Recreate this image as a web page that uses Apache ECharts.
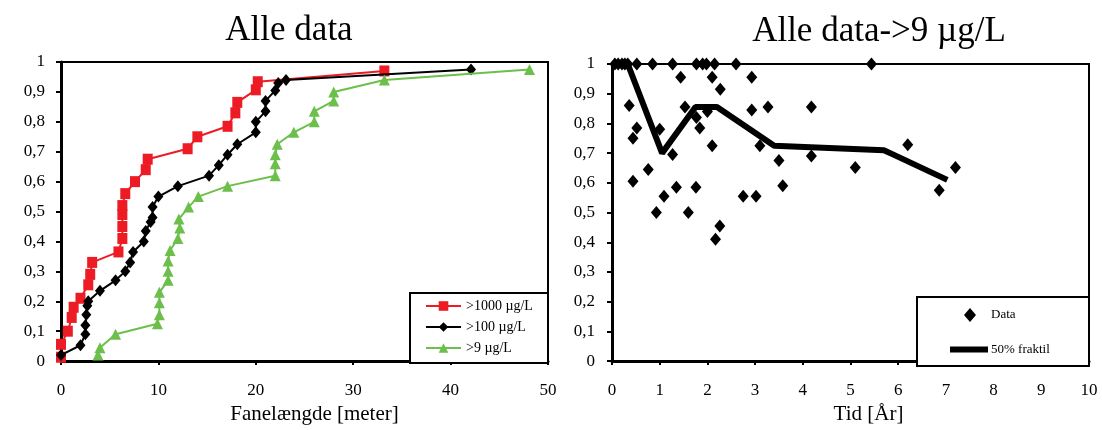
<!DOCTYPE html>
<html><head><meta charset="utf-8">
<script src="https://cdn.jsdelivr.net/npm/echarts@6/dist/echarts.min.js"></script>
<style>html,body{margin:0;padding:0;background:#fff}#c{width:1102px;height:430px}</style>
</head><body><div id="c"></div>
<script>
// ---- data: left chart (Fanelængde [meter] vs cumulative fraction)
const red1000 = [[0,0.013],[0,0.056],[0.7,0.10],[1.1,0.146],[1.3,0.18],[2,0.21],[2.8,0.255],[3,0.29],[3.2,0.33],[5.9,0.365],[6.3,0.41],[6.3,0.45],[6.3,0.49],[6.3,0.52],[6.6,0.56],[7.6,0.60],[8.7,0.64],[8.9,0.675],[13,0.71],[14,0.75],[17.1,0.785],[17.9,0.83],[18.1,0.865],[20,0.907],[20.2,0.934],[33.2,0.97]];
const black100 = [[0,0.02],[2,0.053],[2.5,0.09],[2.5,0.12],[2.6,0.155],[2.7,0.185],[2.8,0.2],[4,0.235],[5.6,0.27],[6.6,0.30],[7.1,0.33],[7.4,0.365],[8.5,0.40],[8.7,0.435],[9.2,0.465],[9.4,0.48],[9.4,0.515],[10,0.55],[12,0.585],[15.2,0.62],[16.2,0.655],[17.1,0.69],[18.1,0.725],[20,0.765],[20,0.80],[21,0.835],[21,0.87],[22,0.905],[22.3,0.93],[23.1,0.94],[42.1,0.975]];
const green9 = [[3.8,0.02],[4,0.045],[5.6,0.09],[9.9,0.125],[10.1,0.155],[10.1,0.195],[10.1,0.23],[11,0.27],[11,0.30],[11,0.335],[11.2,0.37],[12,0.41],[12.2,0.445],[12.1,0.475],[13.1,0.515],[14.1,0.55],[17.1,0.585],[22,0.62],[22,0.66],[22,0.69],[22.2,0.725],[23.9,0.765],[26,0.80],[26,0.835],[28,0.87],[28,0.90],[33.2,0.94],[48.1,0.975]];
const leftNames = ['>1000 µg/L','>100 µg/L','>9 µg/L'];
// ---- data: right chart (Tid [År])
const scatterData = [[0.06,1],[0.13,1],[0.21,1],[0.27,1],[0.33,1],[0.52,1],[0.85,1],[1.27,1],[1.77,1],[1.9,1],[1.98,1],[2.15,1],[2.6,1],[5.44,1],
 [0.36,0.86],[0.44,0.75],[0.52,0.785],[0.44,0.605],[0.76,0.645],[0.93,0.50],[1.0,0.78],[1.09,0.555],[1.27,0.695],[1.35,0.585],[1.44,0.955],[1.53,0.855],[1.6,0.50],[1.76,0.585],[1.77,0.82],[1.84,0.785],[2.0,0.84],[2.1,0.955],[2.1,0.725],[2.27,0.915],[2.17,0.41],[2.26,0.455],[2.75,0.555],[2.93,0.955],[2.93,0.845],[3.02,0.555],[3.1,0.725],[3.27,0.855],[3.5,0.675],[3.58,0.59],[4.18,0.855],[4.18,0.69],[5.1,0.652],[6.2,0.728],[6.86,0.575],[7.2,0.652]];
const medianData = [[0,1],[0.33,1],[1.05,0.70],[1.75,0.855],[2.2,0.855],[3.4,0.725],[5.7,0.71],[5.9,0.695],[7.03,0.61]];
const rightNames = ['Data','50% fraktil'];

const serif = 'Liberation Serif';
const fmtY = v => String(Math.round(v*10)/10).replace('.', ',');
const chart = echarts.init(document.getElementById('c'));
const axisTxt = {color:'#000', fontFamily:serif, fontSize:17};
function yAxis(idx, m){return {gridIndex:idx,type:'value',min:0,max:1,interval:0.1,
  axisLine:{show:true,lineStyle:{color:'#000',width:3}},axisTick:{show:true,length:5,lineStyle:{color:'#000',width:2}},
  axisLabel:Object.assign({formatter:fmtY,margin:m},axisTxt),splitLine:{show:false}};}
function xAxis(idx, max, interval, name, pad){return {gridIndex:idx,type:'value',min:0,max:max,interval:interval,name:name,nameLocation:'middle',nameGap:33,
  nameTextStyle:{fontFamily:serif,fontSize:21,color:'#000',padding:[0,0,0,pad]},
  axisLine:{onZero:false,lineStyle:{color:'#000',width:3}},axisTick:{length:4,lineStyle:{color:'#000',width:2}},
  axisLabel:Object.assign({margin:21},axisTxt),splitLine:{show:false}};}
const legendTxt = {fontFamily:serif,fontSize:14,color:'#000'};
chart.setOption({
  animation:false,
  title:[
    {text:'Alle data',left:284,top:8,textAlign:'center',textStyle:{fontFamily:serif,fontSize:35,fontWeight:'normal',color:'#000'}},
    {text:'Alle data->9 µg/L',left:874,top:9,textAlign:'center',textStyle:{fontFamily:serif,fontSize:35,fontWeight:'normal',color:'#000'}}
  ],
  grid:[
    {left:61,right:554,top:62,bottom:66,show:true,borderColor:'#000',borderWidth:2},
    {left:612,right:13,top:64,bottom:61,show:true,borderColor:'#000',borderWidth:2}
  ],
  xAxis:[xAxis(0,50,10,'Fanelængde [meter]',20), xAxis(1,10,1,'Tid [År]',36)],
  yAxis:[yAxis(0,16),yAxis(1,17)],
  graphic:[
    {type:'rect',shape:{x:410,y:293,width:138,height:70},style:{fill:'#fff',stroke:'#000',lineWidth:2},z:50},
    {type:'rect',shape:{x:917,y:297,width:172,height:69},style:{fill:'#fff',stroke:'#000',lineWidth:2},z:50}
  ],
  legend:[
    {data:leftNames,orient:'vertical',left:425,top:299,padding:0,itemGap:7,itemWidth:35,itemHeight:12,z:60,textStyle:legendTxt},
    {data:[rightNames[0]],left:964,top:308,padding:0,itemWidth:12,itemHeight:14,icon:'diamond',z:60,
     itemStyle:{color:'#000',opacity:1},
     textStyle:Object.assign({},legendTxt,{fontSize:13,padding:[0,0,0,10]})},
    {data:[rightNames[1]],left:950,top:343,padding:0,itemWidth:38,itemHeight:6,icon:'rect',z:60,
     textStyle:Object.assign({},legendTxt,{fontSize:13,padding:[0,0,0,-2]})}
  ],
  series:[
    {name:leftNames[0],type:'line',xAxisIndex:0,yAxisIndex:0,data:red1000,symbol:'rect',symbolSize:[10,11],
     lineStyle:{color:'#ed1c24',width:2},itemStyle:{color:'#ed1c24'},z:2},
    {name:leftNames[1],type:'line',xAxisIndex:0,yAxisIndex:0,data:black100,symbol:'diamond',symbolSize:[10,12],
     lineStyle:{color:'#000',width:2},itemStyle:{color:'#000'},z:3},
    {name:leftNames[2],type:'line',xAxisIndex:0,yAxisIndex:0,data:green9,symbol:'triangle',symbolSize:[11,11],
     lineStyle:{color:'#6cbf4a',width:2},itemStyle:{color:'#6cbf4a'},z:4},
    {name:rightNames[0],type:'scatter',xAxisIndex:1,yAxisIndex:1,data:scatterData,symbol:'diamond',symbolSize:[11,13],
     itemStyle:{color:'#000',opacity:1},z:3},
    {name:rightNames[1],type:'line',xAxisIndex:1,yAxisIndex:1,data:medianData,symbol:'none',
     lineStyle:{color:'#000',width:6},itemStyle:{color:'#000'},z:4}
  ]
});
</script></body></html>
